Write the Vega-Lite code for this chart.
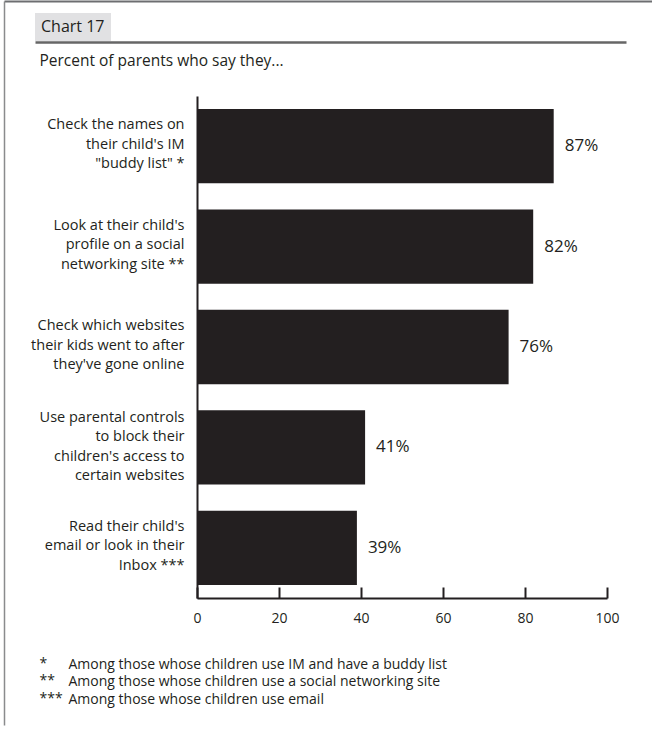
{
  "$schema": "https://vega.github.io/schema/vega-lite/v6.json",
  "width": 648,
  "height": 730,
  "padding": {"left": 4, "top": 1, "right": 0, "bottom": 0},
  "autosize": {"type": "none"},
  "background": "#ffffff",
  "config": {
    "view": {"stroke": null},
    "font": "Open Sans",
    "axis": {"labelFont": "Open Sans", "titleFont": "Open Sans", "grid": false}
  },
  "data": {
    "values": [
      {"item": "Check the names on|their child's IM|\"buddy list\" *", "pct": 87, "label": "87%"},
      {"item": "Look at their child's|profile on a social|networking site **", "pct": 82, "label": "82%"},
      {"item": "Check which websites|their kids went to after|they've gone online", "pct": 76, "label": "76%"},
      {"item": "Use parental controls|to block their|children's access to|certain websites", "pct": 41, "label": "41%"},
      {"item": "Read their child's|email or look in their|Inbox ***", "pct": 39, "label": "39%"}
    ]
  },
  "layer": [
    {
      "layer": [
        {
          "mark": {"type": "bar"},
          "encoding": {
            "y": {
              "field": "item", "type": "nominal", "sort": null,
              "scale": {"type": "band", "range": [95, 597], "paddingInner": 0.26, "paddingOuter": 0.13},
              "axis": {
                "orient": "left", "offset": -193, "title": null,
                "ticks": false, "domainColor": "#231f20", "domainWidth": 2,
                "labelExpr": "split(datum.label, '|')",
                "labelFontSize": 14.5, "labelLineHeight": 19.5, "labelColor": "#231f20",
                "labelPadding": 13, "labelLimit": 400, "labelAlign": "right", "labelBaseline": "middle",
                "labelOffset": {"condition": {"test": "indexof(datum.value, 'parental') >= 0", "value": -29.5}, "value": -21}
              }
            },
            "x": {
              "field": "pct", "type": "quantitative",
              "scale": {"domain": [0, 100], "range": [193, 603], "nice": false},
              "axis": {
                "orient": "bottom", "offset": -133,
                "values": [0, 20, 40, 60, 80, 100],
                "tickSize": -11, "tickWidth": 2, "tickColor": "#231f20",
                "domainColor": "#231f20", "domainWidth": 2,
                "labelFontSize": 14, "labelColor": "#231f20", "labelPadding": 24,
                "labelFlush": false,
                "title": ["*", "**", "***"],
                "titleX": 35, "titleY": 69, "titleAlign": "left", "titleAnchor": null,
                "titleBaseline": "alphabetic", "titleLineHeight": 17.5,
                "titleFontSize": 14, "titleFontWeight": "normal", "titleColor": "#231f20"
              }
            },
            "color": {
              "datum": "Chart 17", "type": "nominal",
              "scale": {"range": ["#231f20"]},
              "legend": {
                "orient": "none", "legendX": 31, "legendY": 12,
                "fillColor": "#e1e1e3", "padding": 6, "title": null,
                "labelFontSize": 16, "labelColor": "#231f20", "labelFont": "Open Sans",
                "symbolSize": 0, "symbolOpacity": 0, "symbolStrokeWidth": 0, "labelOffset": -16
              }
            }
          }
        },
        {
          "mark": {"type": "text", "align": "left", "baseline": "middle", "dx": 11, "fontSize": 17, "color": "#231f20"},
          "encoding": {
            "y": {"field": "item", "type": "nominal", "sort": null},
            "x": {"field": "pct", "type": "quantitative"},
            "text": {"field": "label"}
          }
        }
      ]
    },
    {
      "mark": {"type": "point", "opacity": 0},
      "encoding": {
        "x": {
          "datum": 0, "type": "quantitative",
          "scale": {"domain": [0, 1], "range": [0, 648]},
          "axis": {
            "orient": "top", "offset": 0, "domainColor": "#6d6e71", "domainWidth": 2,
            "ticks": false, "labels": false, "grid": false,
            "title": "Percent of parents who say they...",
            "titleX": 35, "titleY": 64, "titleAlign": "left", "titleAnchor": null,
            "titleBaseline": "alphabetic", "titleFontSize": 15.5, "titleFontWeight": "normal",
            "titleColor": "#231f20", "titleLimit": 1000
          }
        },
        "y": {
          "datum": 0, "type": "quantitative",
          "scale": {"domain": [0, 1], "range": [0, 724]},
          "axis": {
            "orient": "left", "offset": 0, "domainColor": "#8a8b8d", "domainWidth": 1.5,
            "ticks": false, "labels": false, "grid": false, "title": null
          }
        }
      }
    },
    {
      "mark": {"type": "point", "opacity": 0},
      "encoding": {
        "x": {
          "datum": 0, "type": "quantitative",
          "scale": {"domain": [0, 1], "range": [31, 622]},
          "axis": {
            "orient": "top", "offset": -41, "domainColor": "#666666", "domainWidth": 2.5,
            "ticks": false, "labels": false, "grid": false,
            "title": [
              "Among those whose children use IM and have a buddy list",
              "Among those whose children use a social networking site",
              "Among those whose children use email"
            ],
            "titleX": 64, "titleY": 626, "titleAlign": "left", "titleAnchor": null,
            "titleBaseline": "alphabetic", "titleLineHeight": 17.5,
            "titleFontSize": 14, "titleFontWeight": "normal", "titleColor": "#231f20", "titleLimit": 1000
          }
        }
      }
    }
  ],
  "resolve": {
    "scale": {"x": "independent", "y": "independent", "color": "independent"},
    "axis": {"x": "independent", "y": "independent"}
  }
}
